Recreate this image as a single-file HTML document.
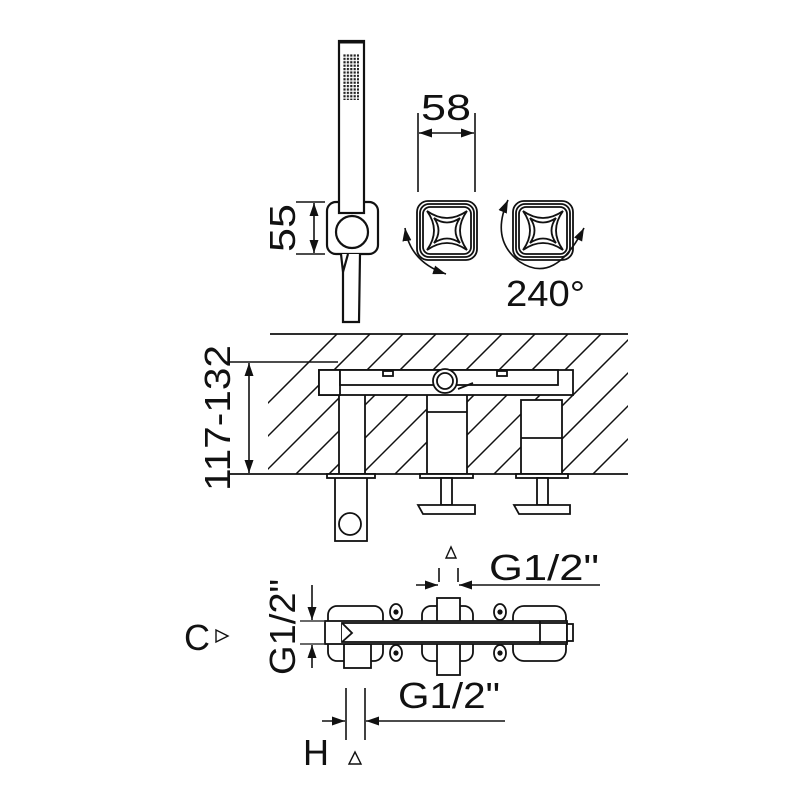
<!DOCTYPE html>
<html><head><meta charset="utf-8"><style>
html,body{margin:0;padding:0;background:#fff}
svg{display:block}
text{font-family:"Liberation Sans",sans-serif;fill:#111}
</style></head><body>
<svg width="800" height="800" viewBox="0 0 800 800" xmlns="http://www.w3.org/2000/svg">
<defs>
<marker id="ar" viewBox="0 0 12 8" refX="12" refY="4" markerWidth="13" markerHeight="9" orient="auto-start-reverse" markerUnits="userSpaceOnUse" preserveAspectRatio="none"><path d="M0,0 L12,4 L0,8z" fill="#111"/></marker>
<pattern id="dots" width="3.4" height="3.4" patternUnits="userSpaceOnUse"><rect width="2.2" height="2.2" fill="#222"/></pattern>
<clipPath id="hc"><rect x="268" y="334" width="360" height="140"/></clipPath>
<g id="knob" fill="none" stroke="#111" stroke-width="1.8">
<rect x="0" y="0" width="60" height="59" rx="11"/>
<rect x="3" y="3" width="54" height="53" rx="9"/>
<rect x="6" y="6" width="48" height="47" rx="7"/>
<path d="M10,10 Q30,24 50,10 Q36,29.5 50,49 Q30,35 10,49 Q24,29.5 10,10z"/>
<path d="M17,17 Q30,26 43,17 Q34,29.5 43,42 Q30,33 17,42 Q26,29.5 17,17z"/>
</g>
</defs>
<g stroke="#111" stroke-width="2.2" fill="none">
<!-- handshower -->
<rect x="327" y="202" width="51" height="52" rx="9" fill="#fff"/>
<rect x="339" y="41" width="25" height="172" fill="#fff"/>
<line x1="339" y1="42" x2="364" y2="42" stroke-width="3"/>
<rect x="343" y="54" width="16" height="46" fill="url(#dots)" stroke="none"/>
<path d="M341,254 L343,272 L343,322 L359,322 L360,254" fill="#fff"/>
<path d="M343,272 L348,254" />
<circle cx="352" cy="232" r="16" fill="#fff"/>
<!-- 55 dim -->
<line x1="296" y1="202" x2="325" y2="202" stroke-width="1.6"/>
<line x1="296" y1="254" x2="325" y2="254" stroke-width="1.6"/>
<line x1="314" y1="203" x2="314" y2="253" stroke-width="1.6" marker-start="url(#ar)" marker-end="url(#ar)"/>
<!-- 58 dim -->
<line x1="418" y1="113" x2="418" y2="192" stroke-width="1.6"/>
<line x1="475" y1="113" x2="475" y2="192" stroke-width="1.6"/>
<line x1="419" y1="133" x2="474" y2="133" stroke-width="1.6" marker-start="url(#ar)" marker-end="url(#ar)"/>
<!-- rotation arrows -->
<path d="M405,228 Q410,262 446,274" stroke-width="1.6" marker-start="url(#ar)" marker-end="url(#ar)"/>
<path d="M508,200 Q490,240 520,262 Q555,285 584,228" stroke-width="1.6" marker-start="url(#ar)" marker-end="url(#ar)"/>

<!-- hatching -->
<g clip-path="url(#hc)" stroke-width="1.5">
<path d="M230,474 L370,334 M263,474 L403,334 M296,474 L436,334 M329,474 L469,334 M362,474 L502,334 M395,474 L535,334 M428,474 L568,334 M461,474 L601,334 M494,474 L634,334 M527,474 L667,334 M560,474 L700,334 M593,474 L733,334 M197,474 L337,334"/>
</g>
<line x1="270" y1="334" x2="628" y2="334" stroke-width="1.8"/>
<line x1="230" y1="474" x2="628" y2="474" stroke-width="1.8"/>
<line x1="230" y1="362" x2="338" y2="362" stroke-width="1.6"/>
<line x1="249" y1="363" x2="249" y2="473" stroke-width="1.6" marker-start="url(#ar)" marker-end="url(#ar)"/>
<!-- components -->
<g fill="#fff" stroke-width="1.8">
<rect x="339" y="393" width="26" height="81"/>
<rect x="427" y="385" width="40" height="89"/>
<line x1="427" y1="412" x2="467" y2="412"/>
<rect x="521" y="400" width="41" height="74"/>
<line x1="521" y1="438" x2="562" y2="438"/>
<rect x="319" y="370" width="254" height="25"/>
<rect x="319" y="370" width="21" height="25"/>
<rect x="340" y="370" width="218" height="15"/>
<rect x="383" y="371" width="10" height="5"/>
<rect x="497" y="371" width="10" height="5"/>
<circle cx="445" cy="381" r="12"/>
<circle cx="445" cy="381" r="8"/>
<path d="M458,389 L473,383"/>
<rect x="335" y="477" width="32" height="64"/>
<rect x="327" y="474" width="48" height="4"/>
<circle cx="350" cy="524" r="11"/>
<rect x="420" y="474" width="53" height="4"/>
<rect x="441" y="478" width="11" height="27"/>
<path d="M418,505 L475,505 L475,514 L423,514 Z"/>
<rect x="516" y="474" width="52" height="4"/>
<rect x="537" y="478" width="11" height="27"/>
<path d="M514,505 L570,505 L570,514 L519,514 Z"/>
</g>

<!-- bottom plan -->
<g fill="#fff" stroke-width="1.8">
<rect x="328" y="606" width="55" height="55" rx="9"/>
<rect x="422" y="606" width="51" height="55" rx="9"/>
<rect x="513" y="606" width="53" height="55" rx="11"/>
<ellipse cx="396" cy="612" rx="6" ry="8"/><ellipse cx="396" cy="653" rx="6" ry="8"/>
<ellipse cx="500" cy="612" rx="6" ry="8"/><ellipse cx="500" cy="653" rx="6" ry="8"/>
<rect x="437" y="598" width="23" height="77"/>
<rect x="344" y="644" width="27" height="24"/>
<rect x="325" y="621" width="242" height="23"/>
<rect x="342" y="623" width="225" height="19"/>
<rect x="567" y="624" width="6" height="17"/>
<line x1="540" y1="621" x2="540" y2="644"/>
<path d="M342,623 L352,633 L342,642"/>
</g>
<circle cx="396" cy="612" r="1.5" fill="#111"/><circle cx="396" cy="653" r="1.5" fill="#111"/>
<circle cx="500" cy="612" r="1.5" fill="#111"/><circle cx="500" cy="653" r="1.5" fill="#111"/>
<!-- dims bottom -->
<line x1="439" y1="568" x2="439" y2="582" stroke-width="1.6"/>
<line x1="458" y1="568" x2="458" y2="582" stroke-width="1.6"/>
<line x1="416" y1="585" x2="438" y2="585" stroke-width="1.6" marker-end="url(#ar)"/>
<line x1="600" y1="585" x2="459" y2="585" stroke-width="1.6" marker-end="url(#ar)"/>
<line x1="312" y1="585" x2="312" y2="620" stroke-width="1.6" marker-end="url(#ar)"/>
<line x1="312" y1="668" x2="312" y2="645" stroke-width="1.6" marker-end="url(#ar)"/>
<line x1="300" y1="621" x2="324" y2="621" stroke-width="1.3"/>
<line x1="300" y1="644" x2="324" y2="644" stroke-width="1.3"/>
<line x1="346" y1="688" x2="346" y2="740" stroke-width="1.6"/>
<line x1="365" y1="688" x2="365" y2="740" stroke-width="1.6"/>
<line x1="322" y1="721" x2="345" y2="721" stroke-width="1.6" marker-end="url(#ar)"/>
<line x1="505" y1="721" x2="366" y2="721" stroke-width="1.6" marker-end="url(#ar)"/>
<path d="M446,558 L451,547 L456,558z" stroke-width="1.4"/>
<path d="M349,764 L355,752 L361,764z" stroke-width="1.4"/>
<path d="M216,630 L228,636 L216,642z" stroke-width="1.4"/>
</g>
<use href="#knob" x="417" y="201"/>
<use href="#knob" x="513" y="201"/>
<g font-size="36">
<text x="446" y="120" text-anchor="middle" textLength="50" lengthAdjust="spacingAndGlyphs">58</text>
<text x="506" y="306" textLength="79" lengthAdjust="spacingAndGlyphs">240°</text>
<text transform="translate(295,228) rotate(-90)" text-anchor="middle" textLength="48" lengthAdjust="spacingAndGlyphs">55</text>
<text transform="translate(230,418) rotate(-90)" text-anchor="middle" textLength="146" lengthAdjust="spacingAndGlyphs">117-132</text>
<text x="489" y="580" textLength="110" lengthAdjust="spacingAndGlyphs">G1/2"</text>
<text transform="translate(295,627) rotate(-90)" text-anchor="middle" textLength="96" lengthAdjust="spacingAndGlyphs">G1/2"</text>
<text x="398" y="708" textLength="102" lengthAdjust="spacingAndGlyphs">G1/2"</text>
<text x="184" y="650">C</text>
<text x="303" y="765">H</text>
</g>
</svg>
</body></html>
